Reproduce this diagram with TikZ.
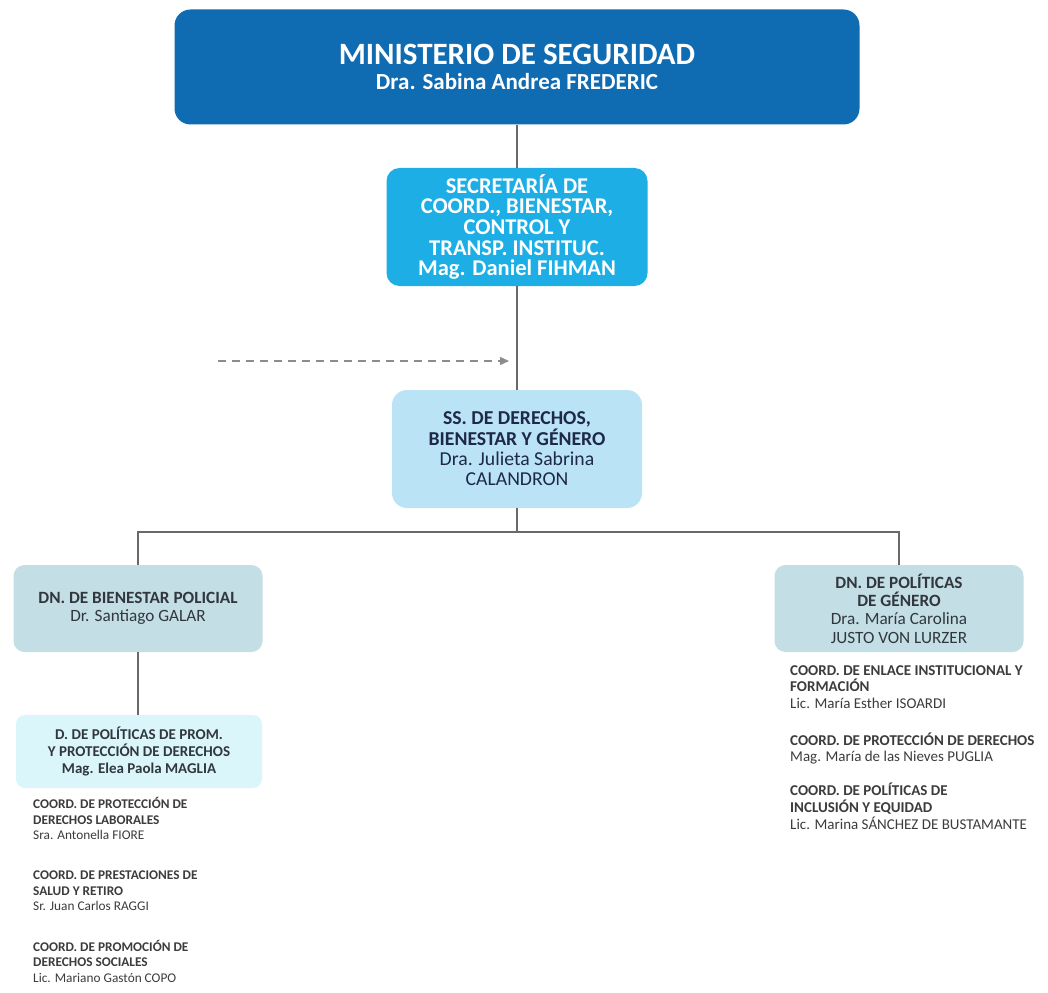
\documentclass[tikz,border=0pt]{standalone}
\usepackage{fontspec}
\setmainfont{Carlito}
\usetikzlibrary{arrows.meta}
\definecolor{minblue}{RGB}{16,108,178}
\definecolor{secblue}{RGB}{28,174,228}
\definecolor{ssblue}{RGB}{186,227,246}
\definecolor{dngray}{RGB}{195,222,229}
\definecolor{dpcyan}{RGB}{218,246,250}
\definecolor{navytext}{RGB}{30,40,72}
\definecolor{darktext}{RGB}{50,55,62}
\definecolor{listtext}{RGB}{60,60,60}
\definecolor{linegray}{RGB}{105,105,105}
\definecolor{dashgray}{RGB}{140,140,140}
\begin{document}
\begin{tikzpicture}[x=1pt,y=-1pt,
  orgbox/.style={rectangle, align=center, inner sep=0pt},
  minbox/.style={orgbox, rounded corners=16pt, fill=minblue, text=white, minimum width=685pt, minimum height=115pt, font=\fontsize{23}{25}\selectfont\bfseries},
  secbox/.style={orgbox, rounded corners=13pt, fill=secblue, text=white, minimum width=261pt, minimum height=118pt, font=\fontsize{22.5}{20.7}\selectfont\bfseries},
  ssbox/.style={orgbox, rounded corners=15pt, fill=ssblue, text=navytext, minimum width=250pt, minimum height=118pt, font=\fontsize{19.7}{20.3}\selectfont\bfseries},
  dnbox/.style={orgbox, rounded corners=11pt, fill=dngray, text=darktext, minimum width=249pt, minimum height=87pt, font=\fontsize{17.2}{18.3}\selectfont\bfseries},
  dpbox/.style={orgbox, rounded corners=9pt, fill=dpcyan, text=darktext, minimum width=246pt, minimum height=73pt, font=\fontsize{15}{17}\selectfont\bfseries},
  listl/.style={align=left, inner sep=0pt, anchor=west, text=listtext, font=\fontsize{13.3}{15.5}\selectfont},
  listr/.style={align=left, inner sep=0pt, anchor=west, text=listtext, font=\fontsize{15}{16.8}\selectfont},
  conn/.style={draw=linegray, line width=1.3pt},
  dasharrow/.style={draw=dashgray, line width=1.3pt, dash pattern=on 8pt off 6pt, -{Triangle[length=9pt,width=8pt]}}
]
\useasboundingbox[fill=white] (0,0) rectangle (1048,992);

\node[minbox] (min) at (517,67) {{\fontsize{31}{31}\selectfont MINISTERIO DE SEGURIDAD}\\Dra. Sabina Andrea FREDERIC};
\node[secbox] (sec) at (517,227) {SECRETARÍA DE\\COORD., BIENESTAR,\\CONTROL Y\\TRANSP. INSTITUC.\\Mag. Daniel FIHMAN};
\node[ssbox] (ss) at (517,449) {SS. DE DERECHOS,\\BIENESTAR Y GÉNERO\\\mdseries Dra. Julieta Sabrina\\\mdseries CALANDRON};
\node[dnbox] (dnb) at (138,608.5) {DN. DE BIENESTAR POLICIAL\\\mdseries Dr. Santiago GALAR};
\node[dnbox] (dnp) at (899,608.5) {DN. DE POLÍTICAS\\DE GÉNERO\\\mdseries Dra. María Carolina\\\mdseries JUSTO VON LURZER};
\node[dpbox] (dpp) at (139,751.5) {D. DE POLÍTICAS DE PROM.\\Y PROTECCIÓN DE DERECHOS\\Mag. Elea Paola MAGLIA};

\coordinate (bus) at (517,532);
\coordinate (dstart) at (218,361);
\coordinate (dend) at (509,361);

\draw[conn] (min.south) -- (sec.north);
\draw[conn] (sec.south) -- (ss.north);
\draw[conn] (ss.south) -- (bus);
\draw[conn] (dnb.north) |- (bus) -| (dnp.north);
\draw[conn] (dnb.south) -- (dnb.south |- dpp.north);
\draw[dasharrow] (dstart) -- (dend);

\node[listl] (l1) at (33,818.5) {\bfseries COORD. DE PROTECCIÓN DE\\\bfseries DERECHOS LABORALES\\Sra. Antonella FIORE};
\node[listl] (l2) at (33,891) {\bfseries COORD. DE PRESTACIONES DE\\\bfseries SALUD Y RETIRO\\Sr. Juan Carlos RAGGI};
\node[listl] (l3) at (33,961) {\bfseries COORD. DE PROMOCIÓN DE\\\bfseries DERECHOS SOCIALES\\Lic. Mariano Gastón COPO};

\node[listr] (r1) at (790,687) {\bfseries COORD. DE ENLACE INSTITUCIONAL Y\\\bfseries FORMACIÓN\\Lic. María Esther ISOARDI};
\node[listr] (r2) at (790,748.5) {\bfseries COORD. DE PROTECCIÓN DE DERECHOS\\Mag. María de las Nieves PUGLIA};
\node[listr] (r3) at (790,806) {\bfseries COORD. DE POLÍTICAS DE\\\bfseries INCLUSIÓN Y EQUIDAD\\Lic. Marina SÁNCHEZ DE BUSTAMANTE};
\end{tikzpicture}
\end{document}
